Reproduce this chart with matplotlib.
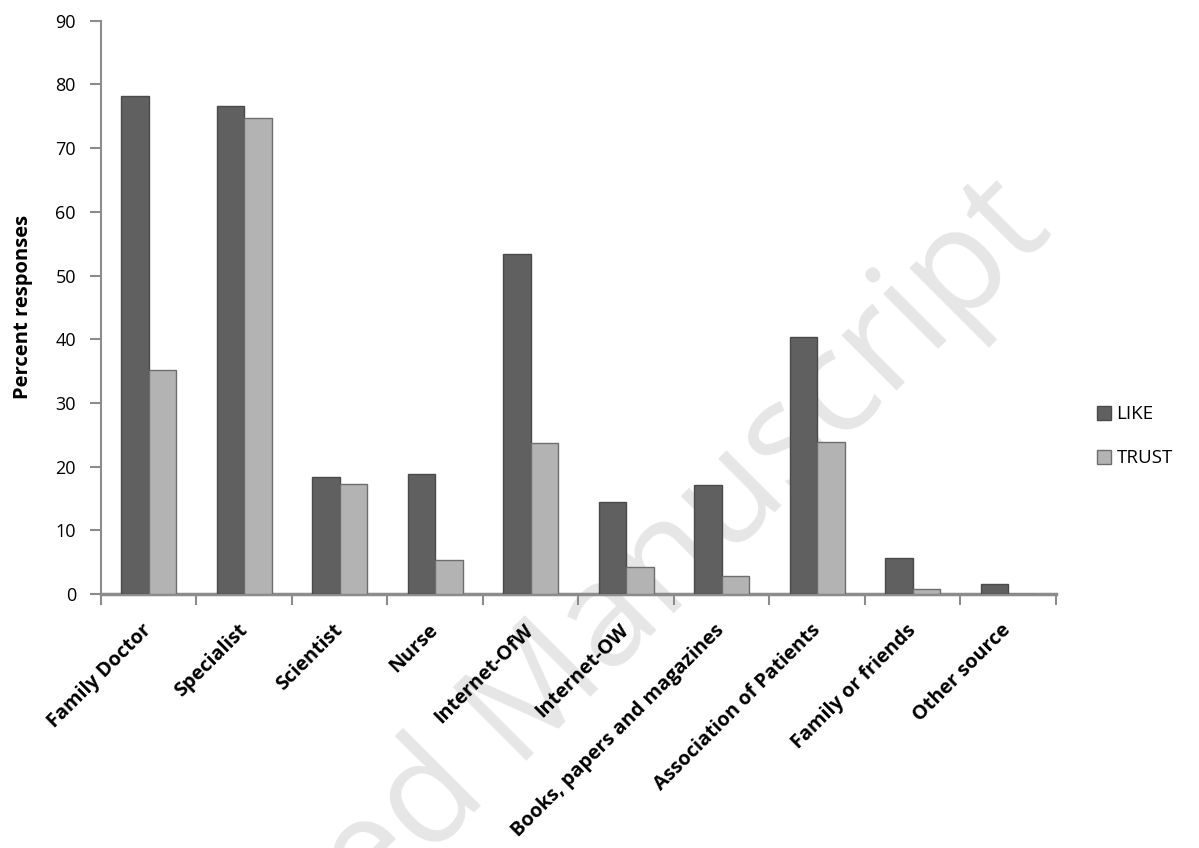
import matplotlib
matplotlib.use("Agg")
import matplotlib.pyplot as plt
import numpy as np

# ---- data ----
categories = [
    "Family Doctor", "Specialist", "Scientist", "Nurse", "Internet-OfW",
    "Internet-OW", "Books, papers and magazines", "Association of Patients",
    "Family or friends", "Other source",
]
like_values = [78.2, 76.6, 18.3, 18.9, 53.3, 14.4, 17.1, 40.3, 5.7, 1.6]
trust_values = [35.2, 74.8, 17.2, 5.3, 23.7, 4.3, 2.9, 23.8, 0.8, 0.0]
y_ticks = [0, 10, 20, 30, 40, 50, 60, 70, 80, 90]

LIKE_COLOR = "#606060"
TRUST_COLOR = "#b3b3b3"
AXIS_COLOR = "#8c8c8c"

plt.rcParams["font.family"] = ["Open Sans", "DejaVu Sans"]

fig = plt.figure(figsize=(11.99, 8.48), dpi=100)
ax = fig.add_axes([0.0842, 0.2995, 0.7965, 0.6761])
ax.set_facecolor("none")

# faint watermark, behind everything
fig.text(0.462, 0.135, "Accepted Manuscript", fontsize=104, color="#e6e6e6",
         rotation=45, rotation_mode="anchor", ha="center", va="baseline",
         zorder=-5)

x = np.arange(len(categories)) + 0.5
w = 0.29
ax.bar(x - w / 2, like_values, w, color=LIKE_COLOR, edgecolor="#4a4a4a",
       linewidth=1.0, label="LIKE", zorder=3)
ax.bar(x + w / 2, trust_values, w, color=TRUST_COLOR, edgecolor="#6e6e6e",
       linewidth=1.0, label="TRUST", zorder=3)

ax.set_xlim(0, len(categories))
ax.set_ylim(0, 90)
ax.set_yticks(y_ticks)
ax.set_yticklabels([str(t) for t in y_ticks], fontsize=13)

ax.set_xticks(np.arange(len(categories) + 1))
ax.set_xticklabels([])
ax.set_xticks(x, minor=True)
ax.set_xticklabels(categories, minor=True, rotation=45, ha="right",
                   va="center", rotation_mode="anchor", fontsize=14.3,
                   fontweight="bold")
ax.tick_params(axis="x", which="minor", length=0, pad=24)
ax.tick_params(axis="x", which="major", length=8, width=1.5, color=AXIS_COLOR)
ax.tick_params(axis="y", length=8, width=1.5, color=AXIS_COLOR, pad=10)

for side in ["top", "right"]:
    ax.spines[side].set_visible(False)
ax.spines["left"].set_color(AXIS_COLOR)
ax.spines["left"].set_linewidth(1.5)
ax.spines["bottom"].set_color(AXIS_COLOR)
ax.spines["bottom"].set_linewidth(2.5)

ax.set_ylabel("Percent responses", fontsize=14.5, fontweight="bold", labelpad=16)

ax.legend(loc="center left", bbox_to_anchor=(1.025, 0.275), frameon=False,
          fontsize=13.5, handlelength=0.75, handleheight=0.75,
          handletextpad=0.3, labelspacing=1.4)

fig.savefig("out.png", dpi=100)
